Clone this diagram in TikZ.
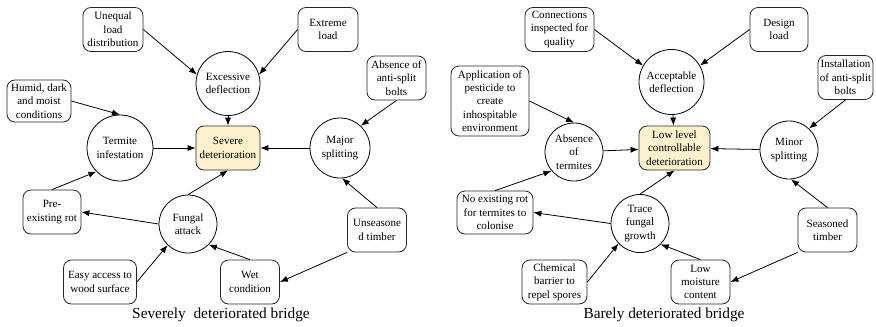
\documentclass[tikz,border=0pt]{standalone}
\usepackage{fontspec}
\setmainfont{Liberation Serif}
\usetikzlibrary{arrows.meta}
\definecolor{goalfill}{RGB}{253,241,205}
\newcommand\pxu{0.75pt}
\tikzset{
 cbox/.style={draw=black!85,line width=.6pt,rounded corners=6pt,align=center,inner sep=1pt,
  minimum height=44*\pxu,font=\fontsize{8.3}{10}\selectfont},
 goal/.style={cbox,fill=goalfill},
 circ/.style={draw,line width=.6pt,circle,align=center,inner sep=1pt,font=\fontsize{8.3}{10}\selectfont},
 link/.style={-{Latex[length=6pt,width=4.6pt]},line width=.6pt},
}
\begin{document}
\begin{tikzpicture}[x=\pxu,y=-\pxu]
 \useasboundingbox (0,0) rectangle (876,326);
 % severely deteriorated
 \path
 (113,29.5) node[cbox,minimum width=60*\pxu] (unequal) {Unequal\\load\\distribution}
 (328,29.5) node[cbox,minimum width=60*\pxu] (extreme) {Extreme\\load}
 (228,83.5) node[circ,minimum size=64*\pxu] (excess) {Excessive\\deflection}
 (396.5,78) node[cbox,minimum width=59*\pxu] (nobolts) {Absence of\\anti-split\\bolts}
 (39,101) node[cbox,minimum width=64*\pxu,minimum height=42*\pxu] (humid) {Humid, dark\\and moist\\conditions}
 (120,148) node[circ,minimum size=66*\pxu] (termite) {Termite\\infestation}
 (228,148) node[goal,minimum width=64*\pxu] (severe) {Severe\\deterioration}
 (340,148) node[circ,minimum size=60*\pxu] (major) {Major\\splitting}
 (52,212) node[cbox,minimum width=58*\pxu] (prerot) {Pre-\\existing rot}
 (188,224) node[circ,minimum size=58*\pxu] (fungal) {Fungal\\attack}
 (377,230) node[cbox,minimum width=59*\pxu] (unseason) {Unseasone\\d timber}
 (100,282) node[cbox,minimum width=73*\pxu] (access) {Easy access to\\wood surface}
 (250,282) node[cbox,minimum width=59*\pxu] (wet) {Wet\\condition}
 (221,315) node[font=\fontsize{11.5}{13}\selectfont] (titleA) {Severely~ deteriorated bridge};
 \draw[link] (unequal.east)--(excess.164);
 \draw[link] (extreme.west)--(excess.16);
 \draw[link] (excess)--(severe);
 \draw[link] (humid.east)--(termite.north);
 \draw[link] (termite)--(severe);
 \draw[link] (nobolts.south)--(major.47);
 \draw[link] (major)--(severe);
 \draw[link] (prerot.north)--(termite.225);
 \draw[link] (fungal.west)--(prerot.east);
 \draw[link] (fungal.north)--(severe.south);
 \draw[link] (access.east)--(fungal.226);
 \draw[link] (wet.north)--(fungal.-45);
 \draw[link] (unseason.north)--(major.-86);
 \draw[link] (unseason.south west)--(wet.east);
 % barely deteriorated
 \path
 (559.5,29.5) node[cbox,minimum width=69*\pxu] (inspect) {Connections\\inspected for\\quality}
 (779,29.5) node[cbox,minimum width=58*\pxu] (design) {Design\\load}
 (671.5,82) node[circ,minimum size=65*\pxu] (accept) {Acceptable\\deflection}
 (845.5,77.5) node[cbox,minimum width=55*\pxu] (bolts) {Installation\\of anti-split\\bolts}
 (490,101) node[cbox,minimum width=78*\pxu,minimum height=70*\pxu] (pesticide) {Application of\\pesticide to\\create\\inhospitable\\environment}
 (574,152) node[circ,minimum size=58*\pxu] (notermite) {Absence\\of\\termites}
 (674.5,148) node[goal,minimum width=71*\pxu] (lowlevel) {Low level\\controllable\\deterioration}
 (789,150) node[circ,minimum size=58*\pxu] (minor) {Minor\\splitting}
 (495,212.5) node[cbox,minimum width=76*\pxu,minimum height=43*\pxu] (norot) {No existing rot\\for termites to\\colonise}
 (640,223.5) node[circ,minimum size=58*\pxu] (trace) {Trace\\fungal\\growth}
 (827.5,230) node[cbox,minimum width=59*\pxu] (season) {Seasoned\\timber}
 (554.5,282) node[cbox,minimum width=65*\pxu] (barrier) {Chemical\\barrier to\\repel spores}
 (700.5,282) node[cbox,minimum width=59*\pxu] (lowmoist) {Low\\moisture\\content}
 (664,315) node[font=\fontsize{11.5}{13}\selectfont] (titleB) {Barely deteriorated bridge};
 \draw[link] (inspect.east)--(accept.150);
 \draw[link] (design.west)--(accept.30);
 \draw[link] (accept)--(lowlevel);
 \draw[link] (pesticide.east)--(notermite.north);
 \draw[link] (notermite)--(lowlevel);
 \draw[link] (bolts.south)--(minor.47);
 \draw[link] (minor)--(lowlevel);
 \draw[link] (norot.north)--(notermite.220);
 \draw[link] (trace.west)--(norot.east);
 \draw[link] (trace.north)--(lowlevel.south);
 \draw[link] (barrier.east)--(trace.223);
 \draw[link] (lowmoist.north)--(trace.-45);
 \draw[link] (season.north)--(minor.-86);
 \draw[link] (season.south west)--(lowmoist.east);
\end{tikzpicture}
\end{document}
